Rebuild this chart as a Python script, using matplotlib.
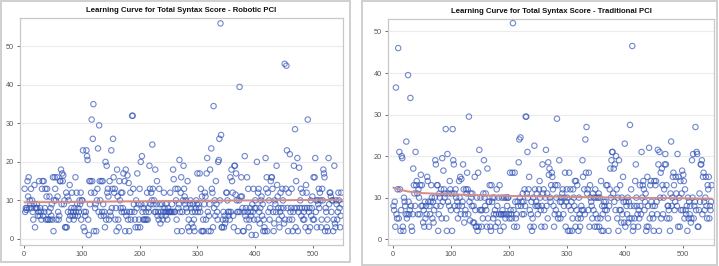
import numpy as np
import matplotlib.pyplot as plt
from matplotlib.patches import Rectangle

# ---- data (syntax score per case, case number = position) ----
robotic_scores = [
    # cases 1-50
    13, 7, 8, 7.5, 8, 15, 11, 16, 8, 10, 9, 13, 8, 10, 7, 5, 9, 14, 3, 8,
    8, 9, 8, 6, 7, 15, 6, 8, 7, 5, 13, 15, 6, 15, 7, 8, 13, 5, 11, 13,
    5, 5, 7, 11, 5, 8, 6, 9, 5, 16,
    # 51-100
    2, 10, 16, 13, 10, 5, 16, 11, 7, 5, 6, 15, 15, 18, 9, 17, 15, 16.5, 9, 10,
    3, 3, 12, 3, 11, 7, 10, 5, 14, 6, 7, 8, 12, 6, 7, 5, 8, 6, 16, 7,
    12, 9, 6, 8, 7, 10, 9, 12, 5, 10,
    # 101-150
    10, 23, 3, 7, 2, 6, 7, 23, 21.5, 20.5, 5, 1, 15, 9, 15, 12, 31, 15, 26, 35,
    2, 12, 8, 9, 2, 10, 13, 23.5, 7, 29.5, 15, 10, 6, 15, 7, 15, 9, 6, 7, 3,
    20, 5, 19, 12, 13, 11, 5, 15, 7, 6,
    # 151-200
    23, 8, 13, 26, 16, 12, 13, 5, 8, 2, 18, 11, 5, 3, 15, 10, 8, 12, 7, 12,
    8, 17, 7, 15, 2, 18, 6, 7, 16.5, 5, 14.5, 2, 7, 12, 5, 7, 32, 32, 13, 9,
    7, 5, 3, 10, 8, 17, 3, 9, 5, 13,
    # 201-250
    3, 20, 9, 21.5, 7, 5, 8, 5, 9, 5, 7, 5, 12, 5, 8, 7, 19, 13, 9, 12,
    10, 24.5, 13, 9, 10, 7, 18, 7, 9, 15, 6, 7, 5, 13, 9, 4, 7, 6, 9, 5,
    7, 12, 8, 7, 6, 9, 7, 5, 8, 7,
    # 251-300
    7, 7, 12, 7, 7, 9, 7, 18, 15.5, 7, 7, 13, 10, 5, 2, 13, 8, 9, 20.5, 7,
    12, 16, 2, 7, 10, 19, 13, 11, 9, 10, 8, 7, 15, 3, 5, 2, 9, 10, 8, 4,
    7, 9, 3, 5, 2, 7, 8, 10, 9, 17,
    # 301-350
    7, 9, 8, 17, 7, 13, 2, 11, 2, 5, 2, 9, 12, 11, 5, 17, 21, 7, 2, 6,
    9, 18, 2, 23.5, 13, 12, 3, 34.5, 8, 10, 6, 15, 9, 7, 5, 20, 20.5, 26, 10, 56,
    27, 3, 3, 5, 7, 3, 6, 4, 5, 12,
    # 351-400
    12, 10, 7, 6, 7, 5, 16, 7, 18, 15, 12, 6, 3, 19, 19, 11.5, 17, 10, 7, 2,
    7, 10, 39.5, 7, 11, 16, 11, 8, 2, 2, 7, 21.5, 6, 8, 5, 16, 7, 13, 3, 5,
    8, 7, 6, 1, 9, 7, 13, 5, 8, 10,
    # 401-450
    1, 8, 20, 5, 12, 13, 7, 4, 8, 10, 11, 6, 9, 2, 5, 3, 2, 21, 13, 16,
    2, 12, 7, 10, 5, 8, 15, 16, 16, 13, 7, 2, 4, 10, 9, 7, 19, 14, 11, 8,
    5, 3, 7, 12, 8, 6, 13, 10, 8, 4,
    # 451-500
    45.5, 5, 13, 45, 23, 8, 2, 12, 5, 22, 7, 8, 13, 5, 2, 7, 19, 8, 28.5, 3,
    15, 8, 21, 2, 7, 18.5, 8, 10, 13, 6, 8, 12, 5, 7, 5, 8, 3, 14, 12, 8,
    31, 2, 7, 8, 3, 10, 6, 8, 11, 5,
    # 501-550
    16, 5, 16, 21, 7, 10, 3, 10, 9, 13, 8, 12, 10, 3, 5, 13, 10, 18, 17, 16,
    2, 8, 7, 3, 5, 2, 21, 9, 12, 12, 11, 7, 10, 10, 2, 5, 19, 4, 3, 10,
    9, 5, 7, 12, 10, 8, 3, 6, 12, 9,
]

traditional_scores = [
    # cases 1-50
    8, 7, 9, 3, 36.5, 6, 5, 12, 46, 5, 21, 12, 2, 7, 20, 19.5, 3, 2, 10, 9,
    8, 6, 23.5, 5, 6, 39.5, 9, 6, 7, 34, 8, 3, 2, 6, 17, 13, 11, 8, 21, 13,
    14, 11, 6, 12, 10, 6, 13, 15.5, 8, 13,
    # 51-100
    8, 4, 7, 3, 9, 5, 8, 6, 15, 14, 9, 3, 8, 6, 9, 13, 10, 5, 9, 4,
    7, 10, 19, 18, 8, 13, 13, 2, 6, 11, 10, 8, 12, 5, 19.5, 9, 16.5, 12, 10, 11,
    26.5, 5, 2, 20.5, 9, 11, 8, 14, 12, 7,
    # 101-150
    11, 2, 26.5, 19, 18, 11, 8, 12, 10, 7, 9, 5, 8, 14, 10, 15, 6, 14.5, 8, 9,
    18, 12, 4, 6, 7, 12, 11, 16, 12, 6, 29.5, 9, 4.5, 11, 10, 8, 11, 4, 8, 4,
    15, 7, 3, 3, 10, 2, 16, 3, 21.5, 7,
    # 151-200
    10, 7, 3, 7, 5, 11, 19, 10, 8, 11, 7, 3, 17, 5, 9, 9, 13, 3, 2, 13,
    9, 10, 5, 6, 10, 7, 3, 6, 12, 8, 4, 10, 6, 13, 2, 6, 6, 10, 7, 6,
    3, 10, 6, 5, 10, 6, 8, 10, 10, 6,
    # 201-250
    5, 16, 7, 6, 5, 16, 52, 7, 3, 16, 9, 5, 6, 3, 9, 8, 18.5, 24, 10, 24.5,
    8, 9, 6, 11, 9, 6, 12, 8, 29.5, 29.5, 11, 21, 10, 12, 15, 7, 3, 6, 9, 2,
    5, 10, 3, 22.5, 12, 8, 9, 11, 8, 6,
    # 251-300
    8, 12, 14, 10, 7, 3, 8, 18, 11, 12, 7, 3, 10, 21.5, 8, 11, 5, 18.5, 15.5, 17,
    10, 9, 13, 16, 15, 12, 8, 3, 6, 13, 7, 10, 29, 13, 5, 6, 19, 9, 5, 10,
    9, 11, 12, 6, 8, 10, 16, 3, 9, 12,
    # 301-350
    10, 2, 8, 16, 2, 12, 7, 9, 2, 5, 12, 10, 8, 14, 3, 14, 7, 13, 5, 2,
    10, 6, 3, 5, 8, 7, 19, 15, 7, 12, 6, 24, 16, 27, 11, 12, 7, 16, 3, 13,
    10, 9, 8, 5, 11, 7, 10, 3, 12, 6,
    # 351-400
    10, 3, 5, 10, 11, 3, 10, 5, 14, 2, 8, 6, 2, 9, 8, 7, 9, 13, 7, 13,
    5, 2, 8, 12, 17, 10, 19, 21, 21, 11, 17, 9, 18, 7, 20, 12, 5, 10, 2, 19,
    7, 13, 7, 4, 10, 6, 15, 9, 4, 23,
    # 401-450
    3, 9, 8, 6, 10, 4, 9, 5, 27.5, 8, 12, 5, 46.5, 2, 3, 8, 5, 14, 18, 10,
    8, 6, 3, 7, 5, 13, 8, 6, 21, 10, 13, 14, 12, 7, 9, 11, 2, 3, 15, 8,
    3, 22, 5, 13, 14, 9, 6, 8, 5, 2,
    # 451-500
    14, 8, 13, 14, 9, 6, 21.5, 18, 2, 21, 10, 16, 5, 17, 13, 6, 10, 12, 18, 20.5,
    18, 13, 5, 8, 8, 7, 5, 2, 11, 23.5, 8, 10, 15, 16, 13, 7, 9, 15, 11, 8,
    20.5, 3, 15, 10, 3, 14, 7, 11, 16.5, 7,
    # 501-550
    15.5, 14, 5, 12, 7, 6, 8, 2, 10, 5, 9, 6, 8, 4, 5, 19, 10, 20.5, 5, 8,
    9, 27, 7, 21, 20.5, 3, 3, 7, 11, 9, 18, 18, 19, 6, 15, 16, 9, 7, 10, 15,
    8, 5, 13, 12, 15, 5, 8, 7, 9, 13,
]

# fitted (loess) curves, read as a few knots
robotic_fit_x = [1, 100, 200, 300, 400, 500, 550]
robotic_fit_y = [9.5, 9.6, 9.75, 9.9, 10.0, 10.1, 10.15]
traditional_fit_x = [1, 10, 25, 50, 100, 150, 200, 300, 400, 500, 550]
traditional_fit_y = [12.4, 12.0, 11.5, 11.1, 10.8, 10.55, 10.4, 10.2, 10.0, 9.85, 9.75]

titles = ['Learning Curve for Total Syntax Score - Robotic PCI',
          'Learning Curve for Total Syntax Score - Traditional PCI']

plt.rcParams['font.family'] = ['Liberation Sans', 'DejaVu Sans']

W, H = 719, 266
fig = plt.figure(figsize=(W / 100, H / 100), dpi=100)

def frac(x0, y0, x1, y1):
    # pixel box (top-down) -> figure fraction [l, b, w, h]
    return [x0 / W, 1 - y1 / H, (x1 - x0) / W, (y1 - y0) / H]

# outer panel borders
for (x0, y0, x1, y1) in [(1, 1, 350, 262), (362, 1, 717, 265)]:
    l, b, w, h = frac(x0, y0, x1, y1)
    fig.patches.append(Rectangle((l, b), w, h, transform=fig.transFigure,
                                 fill=False, ec='#cfcfcf', lw=1.4))

ax1 = fig.add_axes(frac(20, 18, 343, 245))
ax2 = fig.add_axes(frac(388, 19, 714, 245))

panels = [
    (ax1, robotic_scores, robotic_fit_x, robotic_fit_y, titles[0], (-7, 552), (-1.6, 57.4)),
    (ax2, traditional_scores, traditional_fit_x, traditional_fit_y, titles[1], (-8.6, 554), (-1.4, 53)),
]

for ax, scores, fx, fy, title, xl, yl in panels:
    cases = np.arange(1, len(scores) + 1)
    ax.scatter(cases, scores, s=15, facecolors='none', edgecolors='#3455b8',
               linewidths=0.8, alpha=0.7, zorder=3)
    ax.plot(fx, fy, color='#d58b86', lw=1.4, zorder=4)
    ax.set_xlim(*xl)
    ax.set_ylim(*yl)
    ax.set_xticks(range(0, 501, 100))
    ax.set_yticks(range(0, int(yl[1]) + 1, 10))
    ax.yaxis.grid(True, color='#ececec', lw=0.8)
    ax.set_axisbelow(True)
    for s in ax.spines.values():
        s.set_color('#c8c8c8')
        s.set_linewidth(0.9)
    ax.tick_params(labelsize=5.3, colors='#555555', length=2.5, width=0.6, pad=2)
    ax.set_title(title, fontsize=5.6, fontweight='bold', color='#111111', pad=4)

fig.savefig('out.png', dpi=100)
